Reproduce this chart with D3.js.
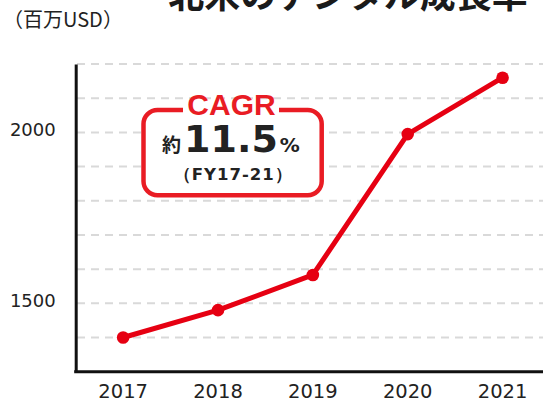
<!DOCTYPE html>
<html>
<head>
<meta charset="utf-8">
<script src="https://cdn.jsdelivr.net/npm/d3@7"></script>
<style>
  body { margin: 0; background: #fff; }
  svg { display: block; }
</style>
</head>
<body>
<svg id="chart" width="543" height="401"></svg>
<script>
// data
const years = ['2017', '2018', '2019', '2020', '2021']
const sales = [1400, 1480, 1583, 1995, 2160]
const yLabelTicks = [1500, 2000]
const unitLabel = '（百万USD）'
const titleText = '北米のデジタル成長率'

const red = '#e60012'
const boxRed = '#e91c24'

const svg = d3.select('#chart')

const x = d3.scaleBand().domain(years).range([75.7, 550]).padding(0)
const y = d3.scaleLinear().domain([1300, 2200]).range([371.7, 64])

// title (cut off at the top in the original)
svg.append('text')
    .attr('x', 348)
    .attr('y', 8)
    .attr('text-anchor', 'middle')
    .style('font-family', '"Noto Sans CJK JP", sans-serif')
    .style('font-weight', 'bold')
    .style('font-size', '36px')
    .style('fill', '#1a1a1a')
    .text(titleText)

// unit
svg.append('text')
    .attr('x', 3)
    .attr('y', 27)
    .style('font-family', '"Noto Sans CJK JP", sans-serif')
    .style('font-size', '20px')
    .style('fill', '#222')
    .text(unitLabel)

// dashed grid
const gridVals = y.ticks(9).filter(d => d > 1300)
svg.append('g')
    .selectAll('line')
    .data(gridVals)
    .join('line')
    .attr('x1', 77)
    .attr('x2', 543)
    .attr('y1', d => y(d))
    .attr('y2', d => y(d))
    .style('stroke', '#d9d9d9')
    .style('stroke-width', 2)
    .style('stroke-dasharray', '8,6')

// line + markers
const cx = d => x(d) + x.bandwidth() / 2
const lineGen = d3.line()
    .x((d, i) => cx(years[i]))
    .y(d => y(d))

svg.append('path')
    .datum(sales)
    .attr('d', lineGen)
    .style('fill', 'none')
    .style('stroke', red)
    .style('stroke-width', 5)
    .style('stroke-linejoin', 'round')

svg.append('g')
    .selectAll('circle')
    .data(sales)
    .join('circle')
    .attr('cx', (d, i) => cx(years[i]))
    .attr('cy', d => y(d))
    .attr('r', 6.3)
    .style('fill', red)

// CAGR box
const box = svg.append('g')
box.append('rect')
    .attr('x', 143.5)
    .attr('y', 110)
    .attr('width', 178.2)
    .attr('height', 85.3)
    .attr('rx', 14)
    .style('fill', '#fff')
    .style('stroke', boxRed)
    .style('stroke-width', 4.5)

box.append('rect')
    .attr('x', 183)
    .attr('y', 100)
    .attr('width', 96)
    .attr('height', 20)
    .style('fill', '#fff')

box.append('text')
    .attr('x', 231.5)
    .attr('y', 115)
    .attr('text-anchor', 'middle')
    .style('font-family', '"Liberation Sans", Arial, sans-serif')
    .style('font-weight', 'bold')
    .style('font-size', '30px')
    .style('fill', boxRed)
    .text('CAGR')

const big = box.append('text')
    .attr('x', 231)
    .attr('y', 151.7)
    .attr('text-anchor', 'middle')
    .style('fill', '#222')
big.append('tspan')
    .style('font-family', '"Noto Sans CJK JP", sans-serif')
    .style('font-weight', 'bold')
    .style('font-size', '19px')
    .text('約')
big.append('tspan')
    .style('font-family', '"DejaVu Sans", Verdana, sans-serif')
    .style('font-weight', 'bold')
    .style('font-size', '38px')
    .attr('dx', 3)
    .text('11.5')
big.append('tspan')
    .style('font-family', '"DejaVu Sans", Verdana, sans-serif')
    .style('font-weight', 'bold')
    .style('font-size', '20px')
    .attr('dx', 2)
    .text('%')

box.append('text')
    .attr('x', 233.3)
    .attr('y', 179.5)
    .attr('text-anchor', 'middle')
    .style('font-family', '"DejaVu Sans", Verdana, sans-serif')
    .style('font-weight', 'bold')
    .style('font-size', '16.5px')
    .style('letter-spacing', '1px')
    .style('fill', '#222')
    .text('（FY17-21）')

// axes
const yAxis = svg.append('g')
    .attr('transform', 'translate(75.7,0)')
    .call(d3.axisLeft(y).tickValues(yLabelTicks).tickFormat(d3.format('d'))
        .tickSize(0).tickSizeOuter(0).tickPadding(20))
yAxis.select('.domain').style('stroke', '#111').style('stroke-width', 3)
yAxis.selectAll('text')
    .attr('dy', '0.32em')
    .attr('y', -3)
    .style('font-family', '"DejaVu Sans", Verdana, sans-serif')
    .style('font-size', '18px')
    .style('fill', '#222')

const xAxis = svg.append('g')
    .attr('transform', 'translate(0,371.7)')
    .call(d3.axisBottom(x).tickSize(0).tickSizeOuter(0).tickPadding(12))
xAxis.select('.domain').style('stroke', '#111').style('stroke-width', 3)
    .attr('d', 'M74.2,0H550')
xAxis.selectAll('text')
    .style('font-family', '"DejaVu Sans", Verdana, sans-serif')
    .style('font-size', '19.5px')
    .style('fill', '#222')
</script>
</body>
</html>
